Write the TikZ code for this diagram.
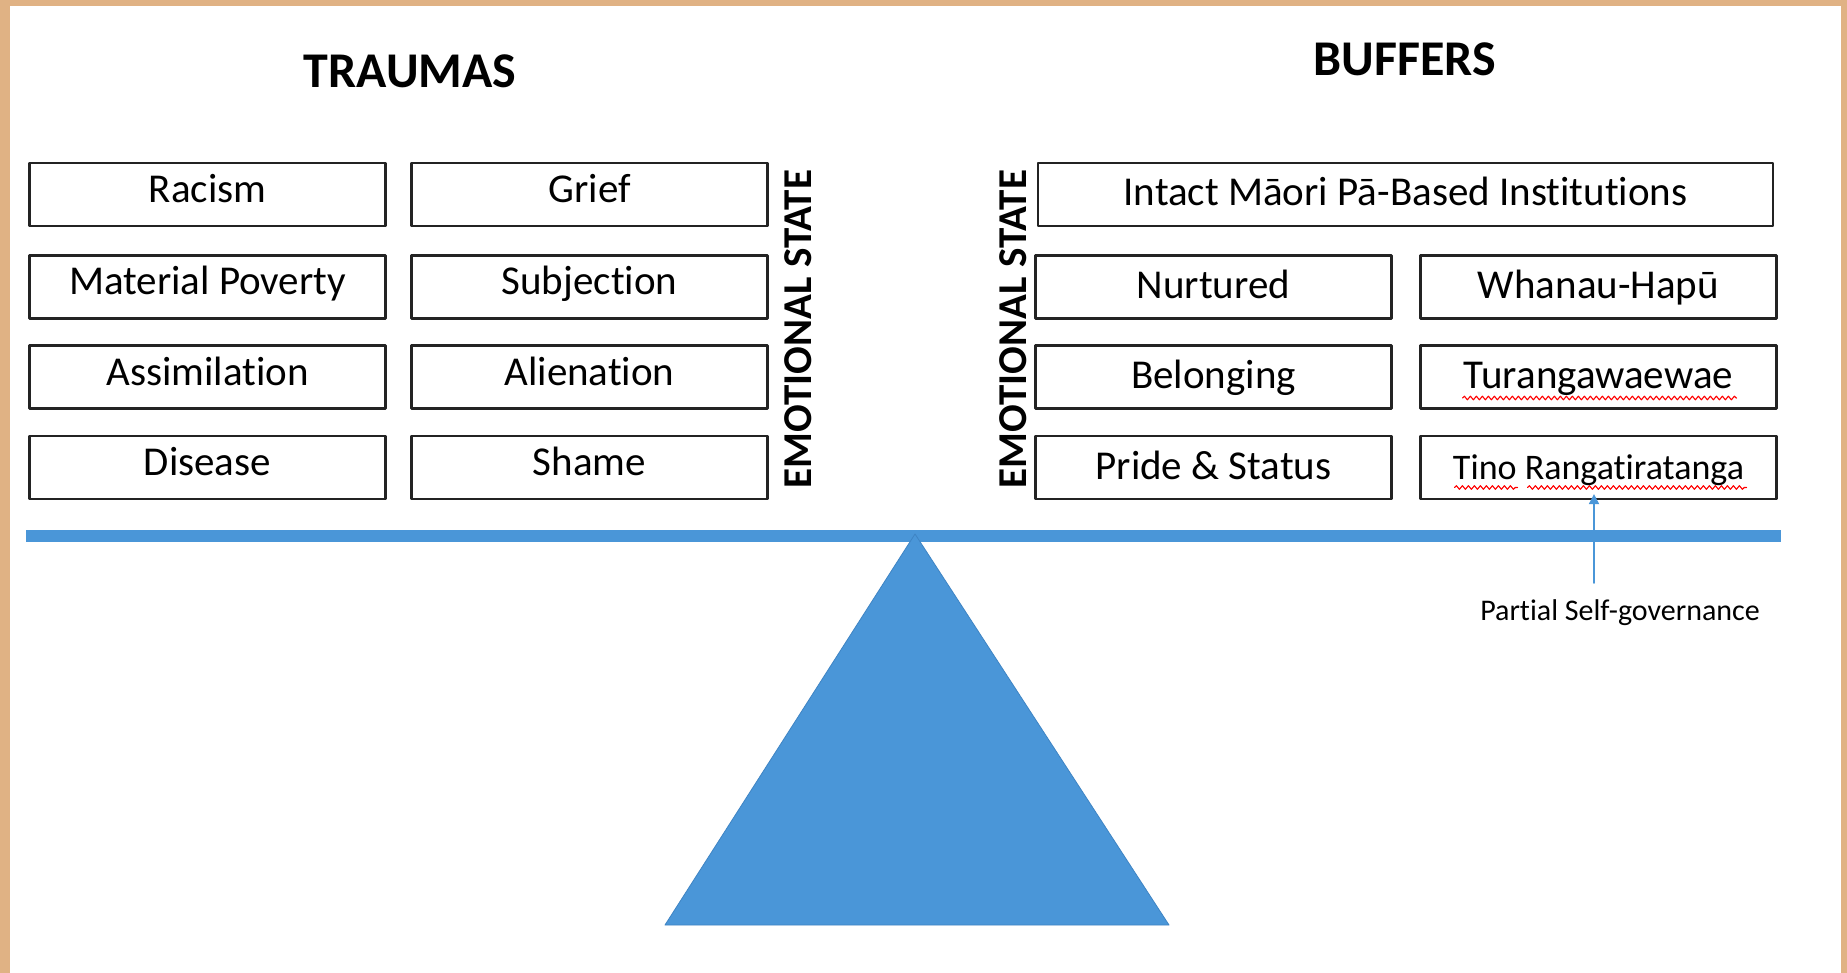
\documentclass[tikz,border=0pt]{standalone}
\usepackage{fontspec}
\setmainfont{Carlito}[Ligatures=NoCommon]
\usepackage{tikz}
\usetikzlibrary{calc}
\usetikzlibrary{arrows.meta}
\usetikzlibrary{decorations.pathmorphing}
\definecolor{frametan}{RGB}{224,178,132}
\definecolor{beamblue}{RGB}{74,150,216}
\definecolor{edgeblue}{RGB}{62,132,196}
\definecolor{boxline}{RGB}{35,35,35}
\tikzset{
  itembox/.style={draw=boxline,line width=2.2pt,fill=white,minimum width=356pt,minimum height=63pt,
    inner sep=0pt,font=\fontsize{41}{48}\selectfont,text height=26pt,text depth=10pt},
  buffbox/.style={itembox,text depth=3pt},
  widebox/.style={buffbox,minimum width=735pt},
  heading/.style={font=\fontsize{50}{58}\selectfont\bfseries,inner sep=0pt,text depth=0pt},
  sidelabel/.style={font=\fontsize{41}{47}\selectfont\bfseries,rotate=90,inner sep=0pt,text depth=0pt},
  spellerr/.style={draw=red,line width=1.1pt,decorate,decoration={snake,segment length=6pt,amplitude=1.8pt}},
  govarrow/.style={draw=beamblue,line width=1.8pt,-{Triangle[width=10pt,length=10pt]}}
}
\begin{document}
\begin{tikzpicture}[x=1pt,y=-1pt,line cap=round,line join=round]
\useasboundingbox (0,0) rectangle (1847,973);
\fill[white] (0,0) rectangle (1847,973);
\fill[frametan] (0,0) rectangle (1847,6);
\fill[frametan] (0,0) rectangle (10,973);
\fill[frametan] (1841,0) rectangle (1847,973);

\node[heading] (traumas) at (410,71) {TRAUMAS};
\node[heading] (buffers) at (1405,59) {BUFFERS};

\node[itembox] (t11) at (207.5,194.5) {Racism};
\node[itembox] (t21) at (207.5,287) {Material Poverty};
\node[itembox] (t31) at (207.5,377) {Assimilation};
\node[itembox] (t41) at (207.5,467.5) {Disease};
\node[itembox] (t12) at (589.5,194.5) {Grief};
\node[itembox] (t22) at (589.5,287) {Subjection};
\node[itembox] (t32) at (589.5,377) {Alienation};
\node[itembox] (t42) at (589.5,467.5) {Shame};

\node[sidelabel] (esleft) at (798,329) {EMOTIONAL STATE};
\node[sidelabel] (esright) at (1013,329) {EMOTIONAL STATE};

\node[widebox] (b1) at (1405.5,194.5) {Intact Māori Pā-Based Institutions};
\node[buffbox] (b21) at (1213.5,287) {Nurtured};
\node[buffbox] (b31) at (1213.5,377) {Belonging};
\node[buffbox] (b41) at (1213.5,467.5) {Pride \& Status};
\node[buffbox] (b22) at (1598.5,287) {Whanau-Hapū};
\node[buffbox] (b32) at (1598.5,377) {Turangawaewae};
\node[buffbox,font=\fontsize{36}{42}\selectfont] (b42) at (1598.5,467.5) {Tino Rangatiratanga};

\draw[spellerr] ($(b32.center)+(-136,21)$) -- ($(b32.center)+(138,21)$);
\draw[spellerr] ($(b42.center)+(-144,20)$) -- ($(b42.center)+(-81,20)$);
\draw[spellerr] ($(b42.center)+(-71,20)$) -- ($(b42.center)+(148,20)$);

\draw[color=beamblue][line width=12pt][line cap=butt] (26,536) -- (1781,536);
\draw[color=edgeblue][line width=0.8pt][fill=beamblue] (915,534) -- (1169,925) -- (665,925) -- cycle;

\node[font=\fontsize{30}{35}\selectfont,inner sep=0pt,anchor=base] (psg) at (1620,620) {Partial Self-governance};
\coordinate (govfoot) at (1594,583);
\draw[govarrow] (govfoot) -- (govfoot |- b42.south) -- ++(0,-6);
\end{tikzpicture}
\end{document}
